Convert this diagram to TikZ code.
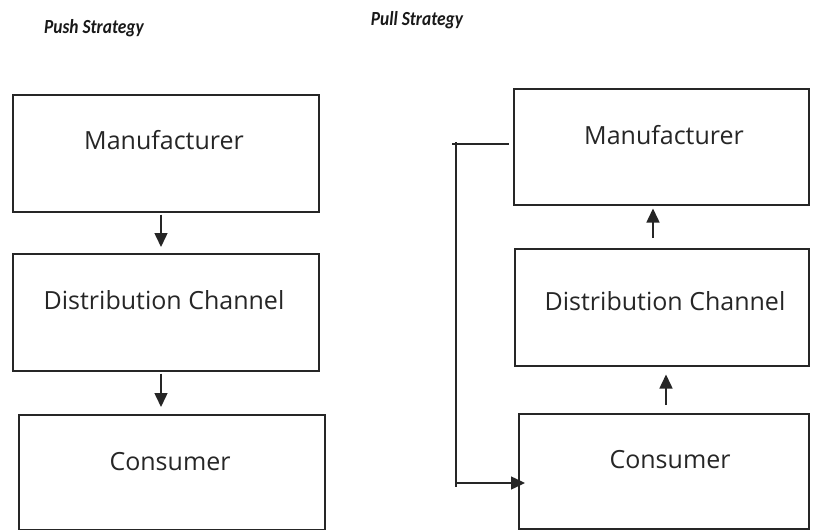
\documentclass[tikz,border=0pt]{standalone}
\usepackage{fontspec}
\setmainfont{Open Sans}
\newfontfamily\titlefont{Carlito}
\usetikzlibrary{arrows.meta}
\newcommand{\ttlbox}[1]{\scalebox{0.87}[1]{#1}}
\begin{document}
\begin{tikzpicture}[x=1pt,y=-1pt,
  box/.style={draw=black!85, line width=1.5pt, rectangle, inner sep=0pt, anchor=north west},
  lbl/.style={font=\fontsize{25}{30}\selectfont, text=black!85, inner sep=0pt},
  ttl/.style={font=\titlefont\bfseries\itshape\fontsize{20}{24}\selectfont, text=black!90, inner sep=0pt},
  conn/.style={draw=black!85, line width=1.5pt},
  arr/.style={conn, -{Triangle[length=14pt,width=13pt]}}]
\useasboundingbox (0,0) rectangle (817,530);
% titles
\node[ttl] (tpush) at (94,28) {\ttlbox{Push Strategy}};
\node[ttl] (tpull) at (417,20) {\ttlbox{Pull Strategy}};
% left boxes
\node[box, minimum width=306pt, minimum height=117pt] (L1) at (12,94) {};
\node[box, minimum width=306pt, minimum height=117pt] (L2) at (12,253) {};
\node[box, minimum width=306pt, minimum height=115pt] (L3) at (18,414) {};
\node[lbl] (tL1) at (164,140) {Manufacturer};
\node[lbl] (tL2) at (164,300) {Distribution Channel};
\node[lbl] (tL3) at (170,462) {Consumer};
% right boxes
\node[box, minimum width=295pt, minimum height=116pt] (R1) at (513,88) {};
\node[box, minimum width=294pt, minimum height=117pt] (R2) at (514,248) {};
\node[box, minimum width=290pt, minimum height=115pt] (R3) at (518,413) {};
\node[lbl] (tR1) at (664,135) {Manufacturer};
\node[lbl] (tR2) at (665,301) {Distribution Channel};
\node[lbl] (tR3) at (670,460) {Consumer};
% push arrows
\coordinate (ax) at (161,0);
\draw[arr, shorten <=2pt, shorten >=6pt] (L1.south -| ax) -- (L2.north -| ax);
\draw[arr, shorten <=2pt, shorten >=7pt] (L2.south -| ax) -- (L3.north -| ax);
% pull arrows
\coordinate (bx) at (653,0);
\coordinate (cx) at (666,0);
\draw[arr, shorten <=10pt, shorten >=3pt] (R2.north -| bx) -- (R1.south -| bx);
\draw[arr, shorten <=8pt, shorten >=8pt] (R3.north -| cx) -- (R2.south -| cx);
% feedback line
\coordinate (fa) at (452,144);
\coordinate (fv1) at (456,142);
\coordinate (fv2) at (456,487);
\coordinate (fb) at (457,483);
\draw[conn, shorten >=4pt] (fa) -- (fa -| R1.west);
\draw[conn] (fv1) -- (fv2);
\draw[arr, shorten >=-7pt] (fb) -- (fb -| R3.west);
\end{tikzpicture}
\end{document}
